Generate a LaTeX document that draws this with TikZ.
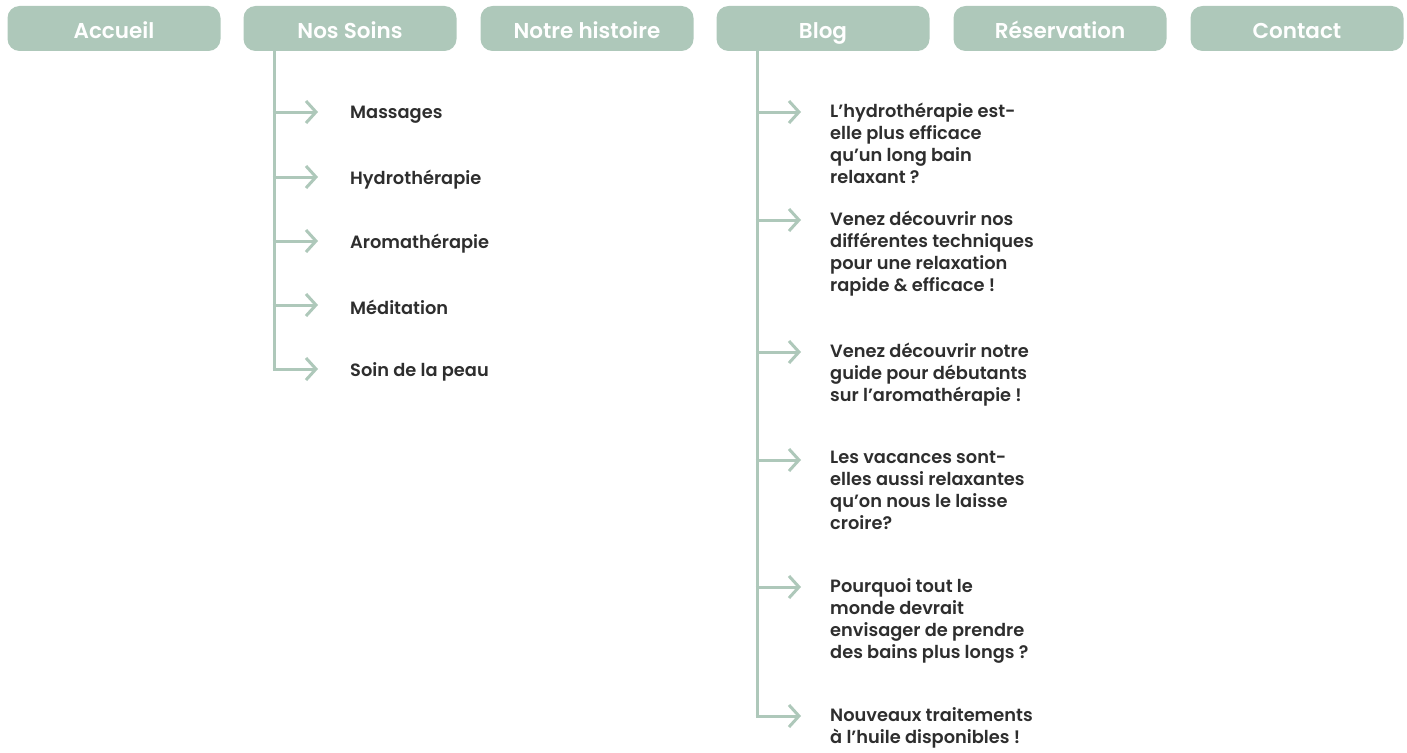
\documentclass[tikz,border=0pt]{standalone}
\usepackage{fontspec}
\setmainfont{Poppins}[BoldFont={* SemiBold}]
\usetikzlibrary{arrows.meta}
\definecolor{sage}{HTML}{AEC8BA}
\definecolor{ink}{HTML}{2E2E2E}
\tikzset{
  navbox/.style={fill=sage, rounded corners=12pt, minimum width=213pt, minimum height=45pt, inner sep=0pt, text height=19pt, text depth=0pt, text=white, font=\fontsize{21.5}{22}\selectfont\bfseries},
  trunk/.style={draw=sage, line width=3pt},
  arr/.style={draw=sage, line width=3pt, -{Straight Barb[length=10pt,width=22pt,line width=3pt]}},
  item/.style={anchor=west, inner sep=0pt, text=ink, font=\fontsize{17.8}{22}\selectfont\bfseries},
  post/.style={anchor=north west, inner sep=0pt, text=ink, align=left, font=\fontsize{17.8}{22}\selectfont\bfseries},
}
\begin{document}
\begin{tikzpicture}[x=1pt,y=-1pt]
\useasboundingbox (0,0) rectangle (1407,752);
% nav bar
\node[navbox] (acc) at (114,28.5) {Accueil};
\node[navbox] (soins) at (350,28.5) {Nos Soins};
\node[navbox] (hist) at (587,28.5) {Notre histoire};
\node[navbox] (blog) at (823,28.5) {Blog};
\node[navbox] (res) at (1060,28.5) {Réservation};
\node[navbox] (cont) at (1297,28.5) {Contact};

% Nos Soins menu
\coordinate (st) at (274,51);
\coordinate (sb) at (274,369);
\draw[trunk] (st) -- ([yshift=1.5pt]sb);
\foreach \n/\y/\t in {a/112/Massages, b/177/Hydrothérapie, c/241/Aromathérapie, d/305/Méditation, e/369/Soin de la peau}{
  \coordinate (s\n) at (274,\y);
  \coordinate (t\n) at (318,\y);
  \node[item] (m\n) at (350,\y+2.5) {\t};
  \draw[arr] ([xshift=-1.5pt]s\n) -- (t\n);
}

% Blog menu
\coordinate (bt) at (757,51);
\coordinate (bb) at (757,716);
\draw[trunk] (bt) -- ([yshift=1.5pt]bb);
\foreach \n/\y in {a/112, b/220, c/352, d/460, e/587, f/716}{
  \coordinate (b\n) at (757,\y);
  \coordinate (u\n) at (801,\y);
  \draw[arr] ([xshift=-1.5pt]b\n) -- (u\n);
}
\node[post] (pa) at (830,103) {L’hydrothérapie est-\\elle plus efficace\\qu’un long bain\\relaxant ?};
\node[post] (pb) at (830,211) {Venez découvrir nos\\différentes techniques\\pour une relaxation\\rapide \& efficace !};
\node[post] (pc) at (830,343) {Venez découvrir notre\\guide pour débutants\\sur l’aromathérapie !};
\node[post] (pd) at (830,451) {Les vacances sont-\\elles aussi relaxantes\\qu’on nous le laisse\\croire?};
\node[post] (pe) at (830,578) {Pourquoi tout le\\monde devrait\\envisager de prendre\\des bains plus longs ?};
\node[post] (pf) at (830,707) {Nouveaux traitements\\à l’huile disponibles !};
\end{tikzpicture}
\end{document}
